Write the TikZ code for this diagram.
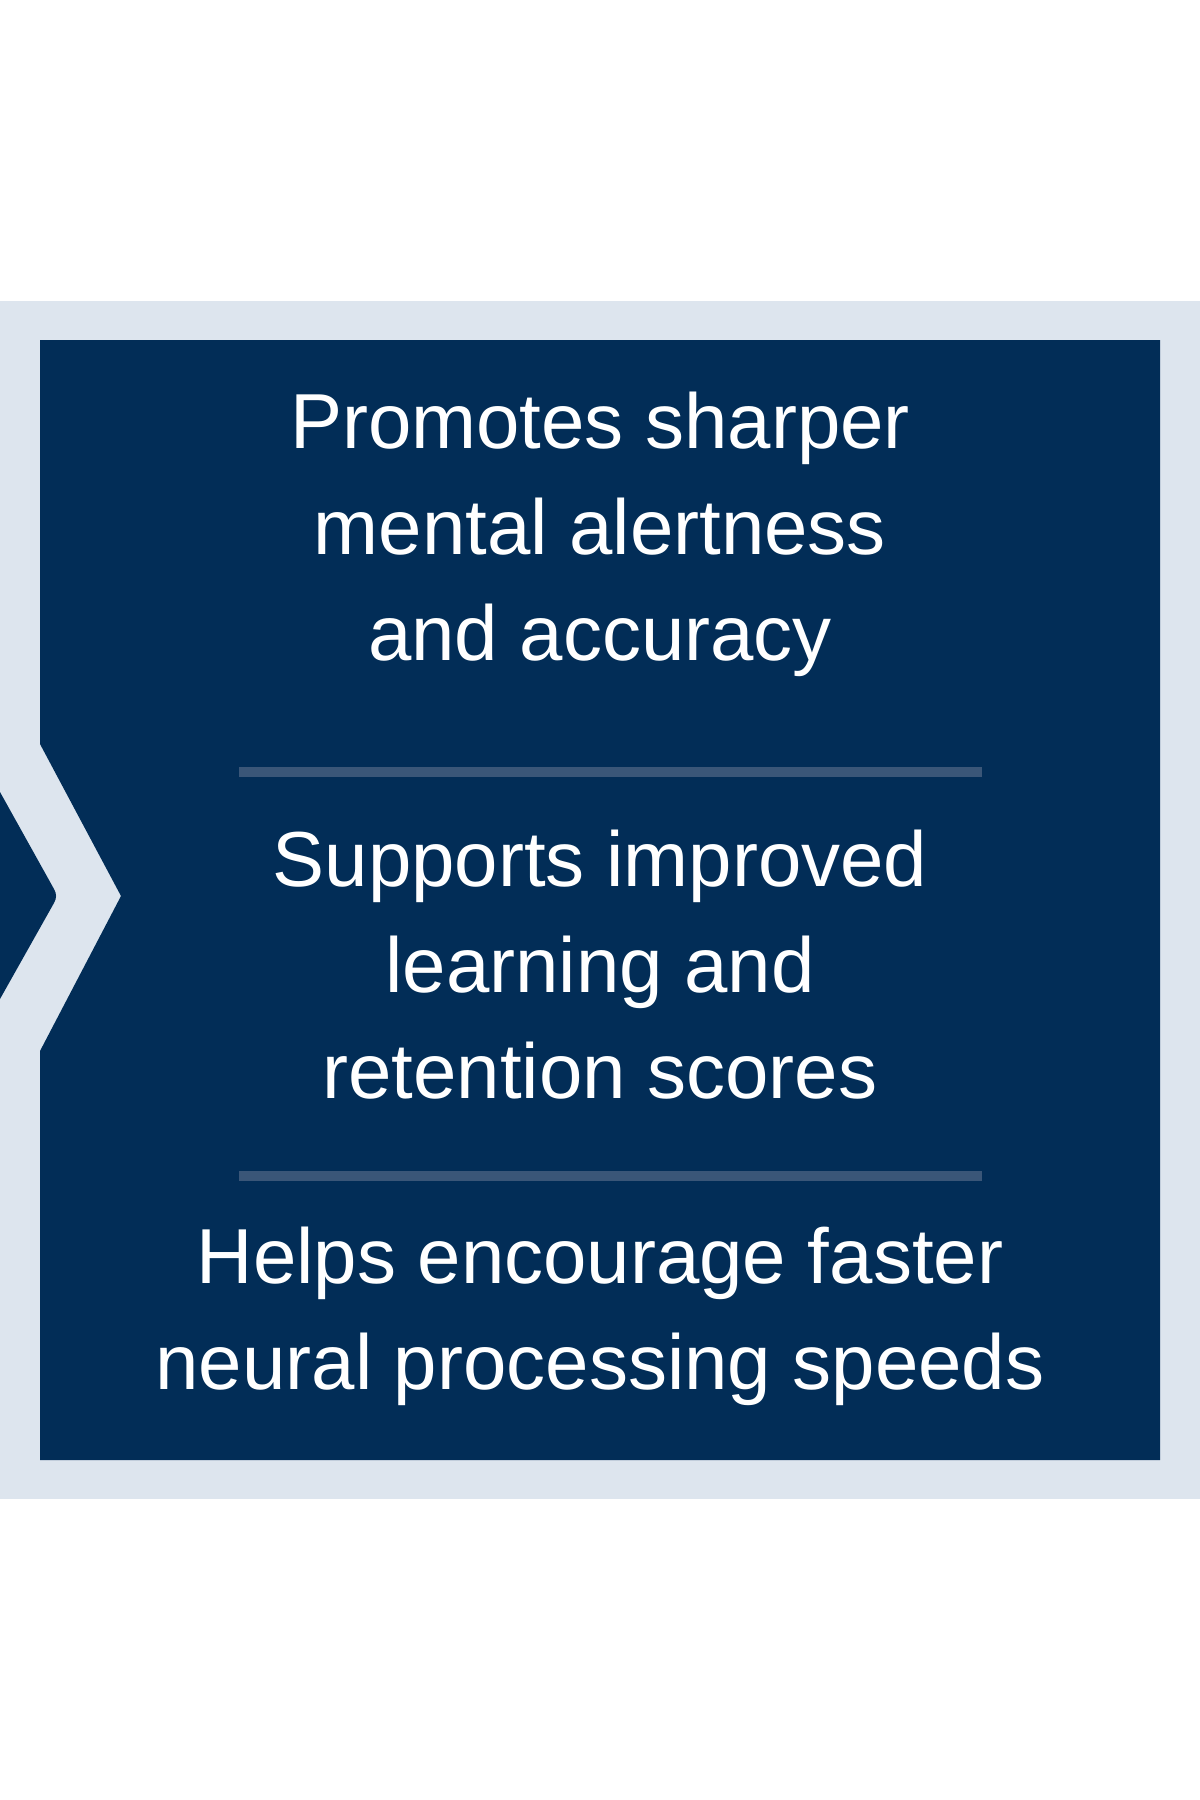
\documentclass[tikz,border=0pt]{standalone}
\usepackage{fontspec}
\setmainfont{Liberation Sans}
\definecolor{navy}{HTML}{022D57}
\definecolor{pale}{HTML}{DDE5EE}
\definecolor{sep}{HTML}{3A5678}
\begin{document}
\begin{tikzpicture}[x=1pt,y=-1pt,
  txt/.style={text=white,align=center,font=\fontsize{78}{106}\selectfont,inner sep=0pt}]
\useasboundingbox (0,0) rectangle (1200,1800);
\fill[white] (0,0) rectangle (1200,1800);
\fill[pale] (0,301) rectangle (1200,1499);
\fill[navy] (40,340) -- (1160,340) -- (1160,1460) -- (40,1460) -- (40,1051) -- (121,896) -- (40,744) -- cycle;
\fill[navy] (0,792) -- (54,889) to[out=-60,in=60] (54,903) -- (0,999) -- cycle;
\draw[sep,line width=10pt] (239,772) coordinate (s1a) -- (982,772) coordinate (s1b);
\draw[sep,line width=10pt] (239,1176) coordinate (s2a) -- (982,1176) coordinate (s2b);
\node[txt] (b1) at (600,534) {Promotes sharper\\mental alertness\\and accuracy};
\node[txt] (b2) at (600,965) {Supports improved\\learning and\\retention scores};
\node[txt] (b3) at (600,1316) {Helps encourage faster\\neural processing speeds};
\end{tikzpicture}
\end{document}
